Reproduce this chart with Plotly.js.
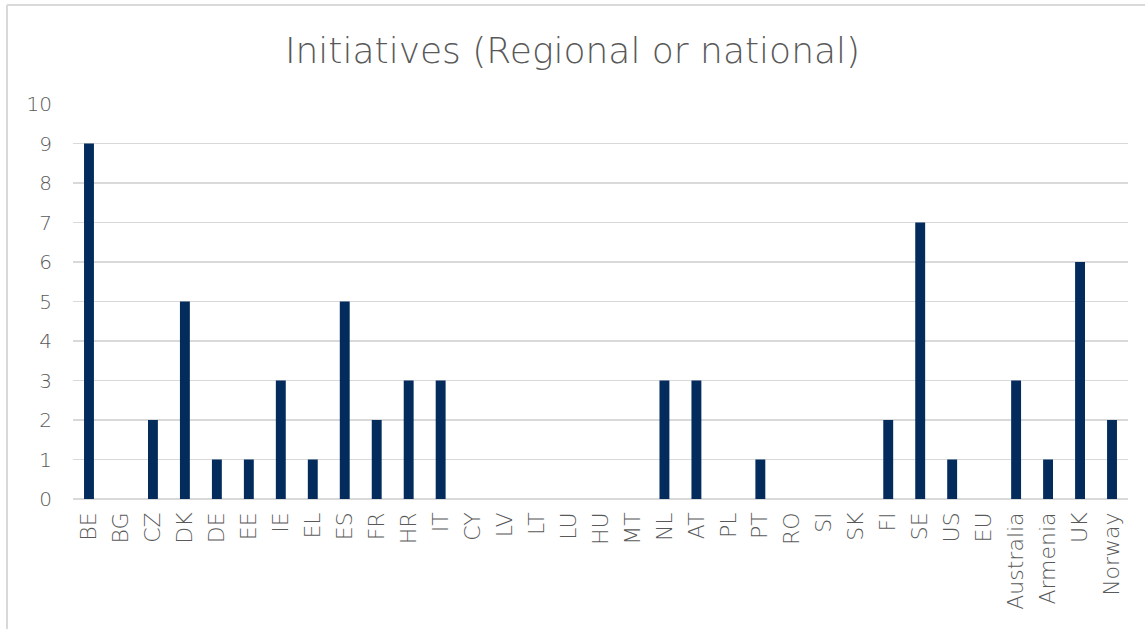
<!DOCTYPE html>
<html>
<head>
<meta charset="utf-8">
<script src="https://cdn.plot.ly/plotly-3.0.1.min.js"></script>
<style>html,body{margin:0;padding:0;background:#fff;}#chart{width:1145px;height:629px;}</style>
</head>
<body>
<div id="chart"></div>
<script>
const categories = ["BE","BG","CZ","DK","DE","EE","IE","EL","ES","FR","HR","IT","CY","LV","LT","LU","HU","MT","NL","AT","PL","PT","RO","SI","SK","FI","SE","US","EU","Australia","Armenia","UK","Norway"];
const values = [9,0,2,5,1,1,3,1,5,2,3,3,0,0,0,0,0,0,3,3,0,1,0,0,0,2,7,1,0,3,1,6,2];
const yTicks = [0,1,2,3,4,5,6,7,8,9,10];

const L = 73, R = 1128, T = 104, B = 499;
const px2x = p => (p - L) / (R - L);
const py2y = p => (B - p) / (B - T);

const trace = {
  type: 'bar',
  x: categories,
  y: values,
  marker: {color: '#032b5c'},
  hoverinfo: 'x+y'
};

const layout = {
  width: 1145, height: 629,
  margin: {l: L, r: 1145 - R, t: T, b: 629 - B},
  paper_bgcolor: '#ffffff',
  plot_bgcolor: '#ffffff',
  font: {family: '"DejaVu Sans", sans-serif', color: '#595959', size: 21},
  title: {text: 'Initiatives (Regional or national)', font: {size: 36, color: '#595959', weight: 200}, x: 0.5, xanchor: 'center', y: 1 - 50/629, yanchor: 'middle'},
  bargap: 0.69,
  showlegend: false,
  xaxis: {
    type: 'category',
    tickangle: -90,
    showgrid: false,
    showline: false,
    ticks: '',
    ticklabelstandoff: 8,
    tickfont: {size: 22, color: '#595959', weight: 200}
  },
  yaxis: {
    range: [0, 10],
    tickvals: yTicks,
    ticktext: yTicks.map(String),
    showgrid: true,
    gridcolor: '#d9d9d9',
    gridwidth: 1.5,
    zeroline: true,
    zerolinecolor: '#d9d9d9',
    zerolinewidth: 1.5,
    showline: false,
    ticks: '',
    ticklabelstandoff: 20,
    tickfont: {size: 20, color: '#595959', weight: 200}
  },
  shapes: [
    {type: 'line', xref: 'paper', yref: 'paper', x0: px2x(7), x1: px2x(7), y0: py2y(5), y1: py2y(640), line: {color: '#d9d9d9', width: 2}},
    {type: 'line', xref: 'paper', yref: 'paper', x0: px2x(7), x1: px2x(1150), y0: py2y(5), y1: py2y(5), line: {color: '#d9d9d9', width: 2}}
  ]
};

Plotly.newPlot('chart', [trace], layout, {displayModeBar: false, staticPlot: true});
</script>
</body>
</html>
